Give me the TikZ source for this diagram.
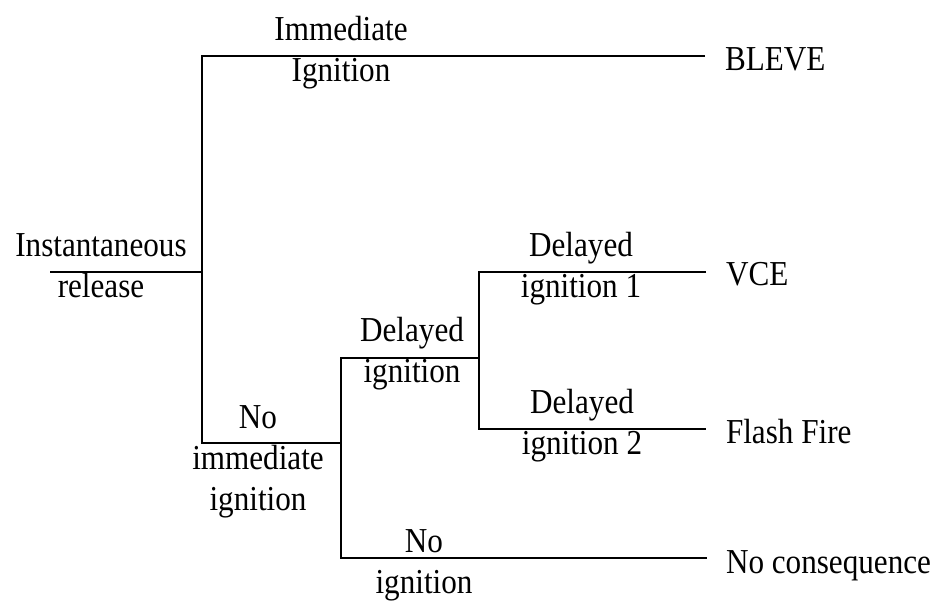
\documentclass[tikz,border=0pt]{standalone}
\usepackage{fontspec}
\setmainfont{Liberation Serif}[FakeStretch=0.89]
\usetikzlibrary{positioning}

\begin{document}
\begin{tikzpicture}[x=0.5pt,y=-0.5pt,line width=1pt,
    lbl/.style={align=center,inner sep=0pt,font=\fontsize{17.5}{20.5}\selectfont},
    outcome/.style={anchor=base west,inner sep=0pt,font=\fontsize{17.5}{20.5}\selectfont}]
  \useasboundingbox (0,0) rectangle (935,601);

  % branch points
  \coordinate (start) at (50,272);
  \coordinate (r) at (202,272);
  \coordinate (a1) at (202,56);
  \coordinate (a2) at (202,443);
  \coordinate (b) at (341,443);
  \coordinate (b1) at (341,358);
  \coordinate (b2) at (341,558);
  \coordinate (c) at (479,358);
  \coordinate (c1) at (479,272);
  \coordinate (c2) at (479,429);
  \coordinate (e1) at (705,56);
  \coordinate (e2) at (706,272);
  \coordinate (e3) at (706,429);
  \coordinate (e4) at (707,558);

  % tree
  \draw (start) -- (r);
  \draw (e1) -- (a1) -- (a2) -- (b);
  \draw (c) -- (b1) -- (b2) -- (e4);
  \draw (e2) -- (c1) -- (c2) -- (e3);

  % events
  \node [lbl] (rel) at (101,266) {Instantaneous\\release};
  \node [lbl] (imm) at (341,53) {Immediate\\Ignition};
  \node [lbl] (noimm) at (258,462) {No\\immediate\\ignition};
  \node [lbl] (del) at (412,354) {Delayed\\ignition};
  \node [lbl] (del1) at (581,269) {Delayed\\ignition 1};
  \node [lbl] (del2) at (582,426) {Delayed\\ignition 2};
  \node [lbl] (noign) at (424,565) {No\\ignition};

  % outcomes
  \node [outcome] (bleve) at (724,70) {BLEVE};
  \node [outcome] (vce) at (725,285) {VCE};
  \node [outcome] (flash) at (725,443) {Flash Fire};
  \node [outcome] (nocons) at (725,573) {No consequence};
\end{tikzpicture}
\end{document}
